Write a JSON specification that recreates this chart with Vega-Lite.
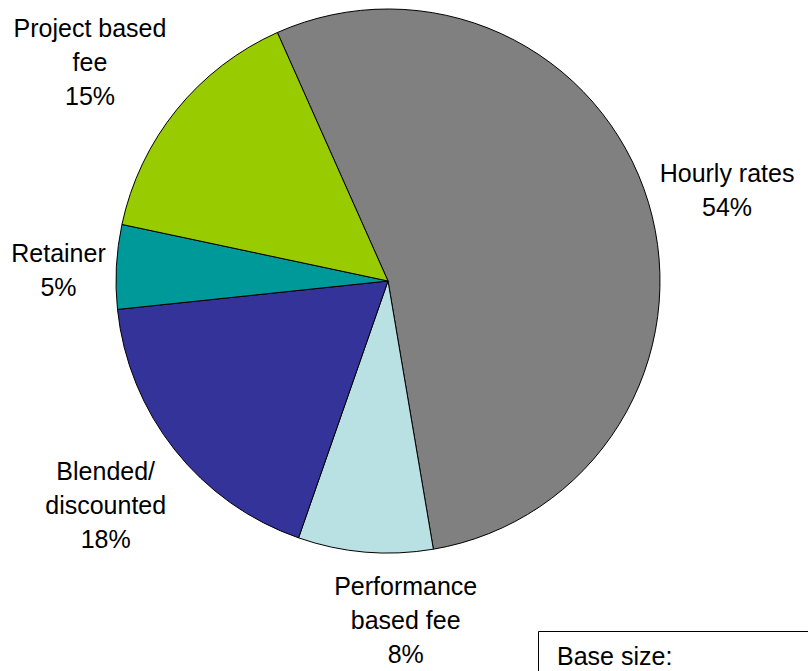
{
  "$schema": "https://vega.github.io/schema/vega-lite/v6.json",
  "width": 776,
  "height": 562,
  "autosize": {"type": "none"},
  "padding": {"left": 0, "top": 0, "right": 32, "bottom": 109},
  "background": "white",
  "config": {"view": {"stroke": null}, "text": {"font": "Liberation Sans"}},
  "data": {
    "values": [
      {"category": "Hourly rates", "share": 54, "order": 1, "label": "Hourly rates\n54%"},
      {"category": "Performance based fee", "share": 8, "order": 2, "label": "Performance\nbased fee\n8%"},
      {"category": "Blended/discounted", "share": 18, "order": 3, "label": "Blended/\ndiscounted\n18%"},
      {"category": "Retainer", "share": 5, "order": 4, "label": "Retainer\n5%"},
      {"category": "Project based fee", "share": 15, "order": 5, "label": "Project based\nfee\n15%"}
    ]
  },
  "encoding": {
    "theta": {"field": "share", "type": "quantitative", "stack": true, "scale": {"range": [-0.41888, 5.86431]}},
    "order": {"field": "order", "type": "quantitative"}
  },
  "layer": [
    {
      "mark": {"type": "arc", "outerRadius": 272, "stroke": "black", "strokeWidth": 1},
      "encoding": {
        "color": {
          "field": "category",
          "type": "nominal",
          "scale": {
            "domain": ["Hourly rates", "Performance based fee", "Blended/discounted", "Retainer", "Project based fee"],
            "range": ["#808080", "#B9E1E3", "#333399", "#009999", "#99CC00"]
          },
          "legend": {
            "values": [],
            "title": "Base size:\u00a0\u00a0\u00a0\u00a0\u00a0\u00a0\u00a0\u00a0\u00a0\u00a0\u00a0\u00a0\u00a0\u00a0\u00a0\u00a0\u00a0\u00a0\u00a0\u00a0\u00a0\u00a0\u00a0\u00a0\u00a0\u00a0\u00a0\u00a0\u00a0\u00a0\u00a0\u00a0\u00a0\u00a0\u00a0\u00a0\u00a0\u00a0\u00a0\u00a0\u2800",
            "titleLimit": 2000,
            "orient": "none",
            "legendX": 538,
            "legendY": 631,
            "strokeColor": "black",
            "fillColor": "white",
            "padding": 19,
            "titleFont": "Liberation Sans",
            "titleFontSize": 25,
            "titleFontWeight": "normal",
            "titleColor": "black",
            "titleBaseline": "line-top",
            "titleLineHeight": 14.5
          }
        }
      }
    },
    {
      "mark": {"type": "text", "radius": 350, "dx": 4, "dy": -6, "fontSize": 25, "lineBreak": "\n", "lineHeight": 34, "align": "center", "baseline": "middle", "color": "black"},
      "encoding": {"text": {"condition": {"test": "datum.category === 'Hourly rates'", "field": "label"}, "value": ""}}
    },
    {
      "mark": {"type": "text", "radius": 350, "dx": 47, "dy": -43, "fontSize": 25, "lineBreak": "\n", "lineHeight": 34, "align": "center", "baseline": "middle", "color": "black"},
      "encoding": {"text": {"condition": {"test": "datum.category === 'Performance based fee'", "field": "label"}, "value": ""}}
    },
    {
      "mark": {"type": "text", "radius": 350, "dx": -8, "dy": -26, "fontSize": 25, "lineBreak": "\n", "lineHeight": 34, "align": "center", "baseline": "middle", "color": "black"},
      "encoding": {"text": {"condition": {"test": "datum.category === 'Blended/discounted'", "field": "label"}, "value": ""}}
    },
    {
      "mark": {"type": "text", "radius": 350, "dx": 20, "dy": -9, "fontSize": 25, "lineBreak": "\n", "lineHeight": 34, "align": "center", "baseline": "middle", "color": "black"},
      "encoding": {"text": {"condition": {"test": "datum.category === 'Retainer'", "field": "label"}, "value": ""}}
    },
    {
      "mark": {"type": "text", "radius": 350, "dx": -26, "dy": -32, "fontSize": 25, "lineBreak": "\n", "lineHeight": 34, "align": "center", "baseline": "middle", "color": "black"},
      "encoding": {"text": {"condition": {"test": "datum.category === 'Project based fee'", "field": "label"}, "value": ""}}
    }
  ]
}
